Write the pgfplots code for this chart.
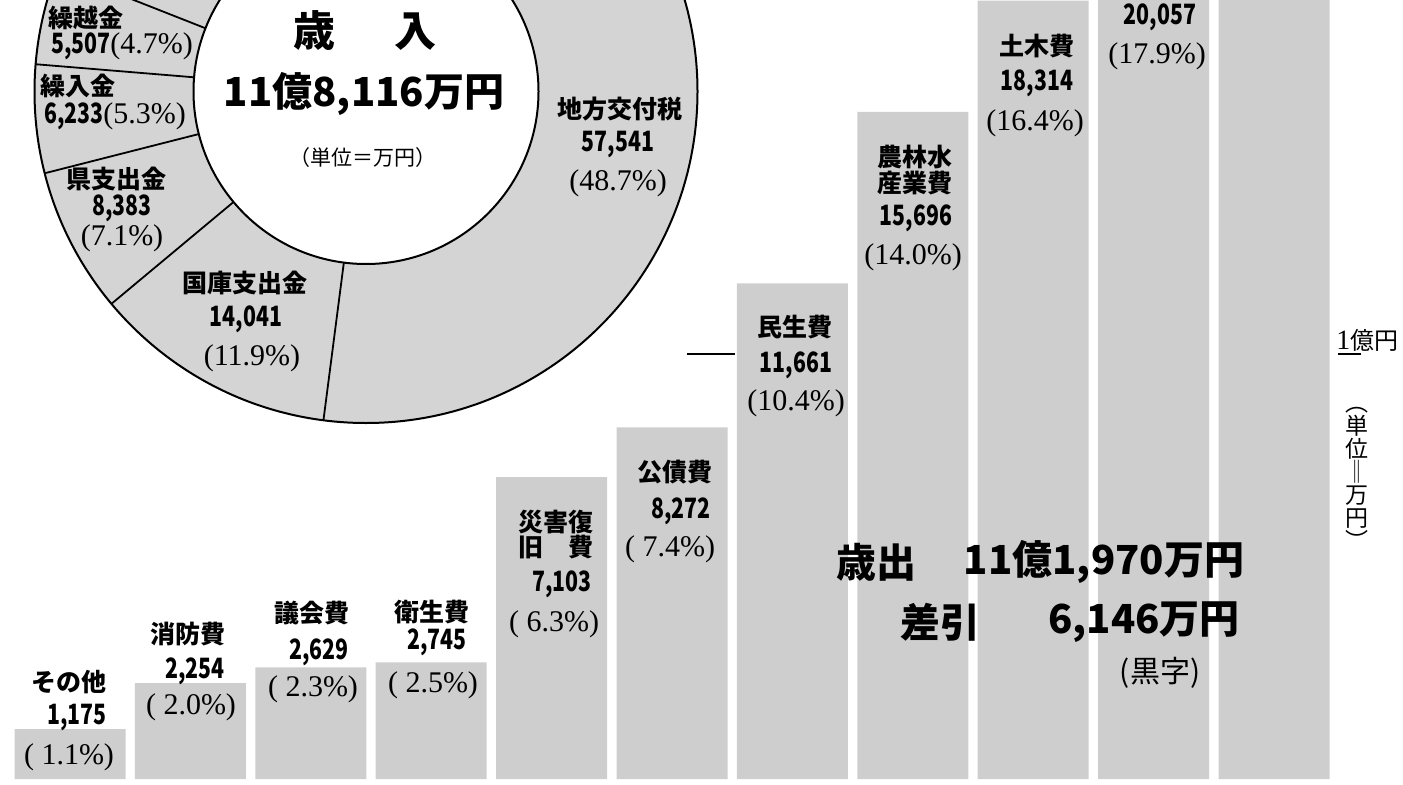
\documentclass[border=0pt]{standalone}
\usepackage{fontspec}
\setmainfont{Liberation Serif}
\newfontfamily\jp{Noto Sans CJK JP}
\usepackage{graphicx}
\usepackage{pgfplots}
\pgfplotsset{compat=1.18}

\definecolor{barfill}{RGB}{206,206,206}
\definecolor{piefill}{RGB}{212,212,212}

% label styles: gothic bold names, condensed gothic values, serif percentages
\newcommand{\nm}[1]{{\jp\bfseries\fontsize{12.5}{14}\selectfont #1}}
\newcommand{\vl}[1]{{\jp\bfseries\fontsize{14}{15}\selectfont\scalebox{0.76}[1]{#1}}}
\newcommand{\pc}[1]{{\fontsize{15}{17}\selectfont #1}}
\newcommand{\bg}[1]{{\jp\bfseries\fontsize{20}{22}\selectfont #1}}

% revenue ring (unit: 10,000 yen)
\def\pieTotal{118116}
\def\pieStart{78}

\begin{document}
\begin{tikzpicture}
\useasboundingbox (0,0) rectangle (701.5pt,392pt);
\clip (0,0) rectangle (701.5pt,392pt);

% expenditure bars
\begin{axis}[at={(0pt,0pt)}, anchor=south west, scale only axis,
  width=701.5pt, height=392pt,
  xmin=-0.5814, xmax=11.0714, ymin=-117.6, ymax=18329.4,
  hide axis, clip=false]
\addplot[ybar, bar width=55.5pt, fill=barfill, draw=none] coordinates {
  (0,1175) (1,2254) (2,2629) (3,2745) (4,7103) (5,8272)
  (6,11661) (7,15696) (8,18314) (9,20057) (10,22064)};
\addplot[black, no markers, line width=0.8pt] coordinates {(5.125,10000) (5.523,10000)};
\addplot[black, no markers, line width=0.8pt] coordinates {(10.53,10000) (10.72,10000)};
\end{axis}

% revenue ring
\begin{axis}[at={(183pt,346.25pt)}, anchor=origin, x=1pt, y=1pt,
  xmin=-170, xmax=170, ymin=-170, ymax=170, hide axis, clip=false]
\fill[piefill] (axis cs:0,0) circle[radius=165.75pt];
\fill[white] (axis cs:0,0) circle[radius=86.25pt];
\draw[line width=1pt] (axis cs:0,0) circle[radius=165.75pt];
\draw[line width=1pt] (axis cs:0,0) circle[radius=86.25pt];
\gdef\cum{0}
\foreach \v in {0,57541,14041,8383,6233,5507}{
  \xdef\cum{\fpeval{\cum+\v}}
  \edef\a{\fpeval{\pieStart-360*\cum/\pieTotal}}
  \edef\tmp{\noexpand\draw[line width=0.9pt]
    (axis cs:{86.25*cos(\a)},{86.25*sin(\a)}) --
    (axis cs:{165.75*cos(\a)},{165.75*sin(\a)});}\tmp
}
\end{axis}

% texts, placed in pixel units of the page
\begin{scope}[x=0.5pt, y=-0.5pt, shift={(0pt,392pt)}, every node/.style={inner sep=0.5pt}]
\node at (365,31) {{\jp\bfseries\fontsize{21}{22}\selectfont 歳\hspace{1.4em}入}};
\node at (364,94) {\bg{11億8,116万円}};
\node at (363,158) {{\jp\fontsize{10.5}{12}\selectfont （単位＝万円）}};

\node at (86,18) {\nm{繰越金}};
\node at (122,46) {\vl{5,507}\pc{(4.7\%)}};
\node at (78,86) {\nm{繰入金}};
\node at (115,116) {\vl{6,233}\pc{(5.3\%)}};
\node at (116,179) {\nm{県支出金}};
\node at (122,208) {\vl{8,383}};
\node at (122,238) {\pc{(7.1\%)}};
\node at (245,283) {\nm{国庫支出金}};
\node at (246,319) {\vl{14,041}};
\node at (252,358) {\pc{(11.9\%)}};
\node at (620,109) {\nm{地方交付税}};
\node at (618,145) {\vl{57,541}};
\node at (618,183) {\pc{(48.7\%)}};

\node at (69,682) {\nm{その他}};
\node at (77,718) {\vl{1,175}};
\node at (69,757) {\pc{( 1.1\%)}};
\node at (188,634) {\nm{消防費}};
\node at (195,671) {\vl{2,254}};
\node at (191,707) {\pc{( 2.0\%)}};
\node at (312,613) {\nm{議会費}};
\node at (319,652) {\vl{2,629}};
\node at (313,689) {\pc{( 2.3\%)}};
\node at (432,612) {\nm{衛生費}};
\node at (437,642) {\vl{2,745}};
\node at (433,685) {\pc{( 2.5\%)}};
\node at (556,522) {\nm{災害復}};
\node at (556,547) {\nm{旧　費}};
\node at (562,584) {\vl{7,103}};
\node at (554,624) {\pc{( 6.3\%)}};
\node at (675,472) {\nm{公債費}};
\node at (681,511) {\vl{8,272}};
\node at (670,549) {\pc{( 7.4\%)}};
\node at (795,327) {\nm{民生費}};
\node at (796,365) {\vl{11,661}};
\node at (796,403) {\pc{(10.4\%)}};
\node at (915,157) {\nm{農林水}};
\node at (915,183) {\nm{産業費}};
\node at (916,218) {\vl{15,696}};
\node at (913,257) {\pc{(14.0\%)}};
\node at (1037,46) {\nm{土木費}};
\node at (1037,83) {\vl{18,314}};
\node at (1035,123) {\pc{(16.4\%)}};
\node at (1160,17) {\vl{20,057}};
\node at (1157,56) {\pc{(17.9\%)}};

\node at (876,562) {\bg{歳出}};
\node at (1104,562) {\bg{11億1,970万円}};
\node at (940,622) {\bg{差引}};
\node at (1144,622) {\bg{6,146万円}};
\node at (1160,673) {{\jp\fontsize{15}{16}\selectfont (黒字)}};

\node[anchor=west, inner sep=0pt] at (1336,340)
  {{\fontsize{14}{14}\selectfont 1}{\jp\fontsize{12}{12}\selectfont 億円}};
\node[align=center, inner sep=0pt, font=\jp\fontsize{11.5}{11.5}\selectfont]
  at (1357,478) {︵\\単\\位\\‖\\万\\円\\︶};
\end{scope}
\end{tikzpicture}
\end{document}
